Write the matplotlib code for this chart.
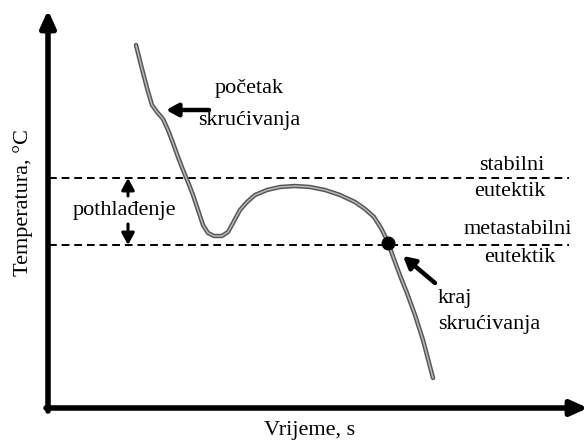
import matplotlib
matplotlib.use("Agg")
import matplotlib.pyplot as plt

# cooling curve (time, temperature) in arbitrary units
time = [87, 92, 98, 103, 108, 114, 119, 124, 129, 134, 139, 144, 149, 154, 159, 165, 173,
        179, 184, 191, 198, 206, 218, 231, 246, 261, 276, 291, 306, 316, 325, 332, 337,
        341, 346, 352, 358, 366, 374, 384]
temp = [363, 343, 320, 303, 296, 289, 278, 265, 251, 238, 226, 213, 198, 183, 175, 172, 172,
        176, 185, 198, 206, 213, 218, 221, 222, 221, 218, 213, 206, 199, 191, 180, 170,
        160, 146, 130, 115, 93, 68, 30]
stable_T = 230
meta_T = 163
end_point = (339, 165)

plt.rcParams['font.family'] = ['Liberation Serif', 'DejaVu Serif']
fig = plt.figure(figsize=(5.88, 4.41), dpi=100)
ax = fig.add_axes([0, 0, 1, 1])
ax.set_xlim(-49, 539)
ax.set_ylim(-33, 408)
ax.axis('off')

# axes with arrows
ax.annotate('', xy=(-1, 398), xytext=(-1, -3),
            arrowprops=dict(arrowstyle='-|>,head_length=1.0,head_width=0.45', lw=4, color='black',
                            shrinkA=0, shrinkB=0))
ax.annotate('', xy=(539, 0), xytext=(-3, 0),
            arrowprops=dict(arrowstyle='-|>,head_length=1.0,head_width=0.45', lw=4, color='black',
                            shrinkA=0, shrinkB=0))

# dashed eutectic lines
for T in (stable_T, meta_T):
    ax.plot([0, 520], [T, T], color='black', lw=1.4, ls=(0, (4, 2.5)))

# curve
ax.plot(time, temp, color='#555555', lw=3.2, solid_joinstyle='round', solid_capstyle='round')
ax.plot(time, temp, color='#b8b8b8', lw=1.1, solid_joinstyle='round', solid_capstyle='round')
ax.plot([end_point[0]], [end_point[1]], 'o', color='black', ms=9)

fs = 16
arrow_kw = dict(arrowstyle='-|>,head_length=0.7,head_width=0.38', lw=3.2, color='black',
                shrinkA=0, shrinkB=0)

# početak skrućivanja
ax.annotate('', xy=(117, 298), xytext=(160, 298), arrowprops=arrow_kw)
ax.text(200, 319, 'početak', fontsize=fs, ha='center', va='center')
ax.text(200, 287, 'skrućivanja', fontsize=fs, ha='center', va='center')

# pothlađenje
ax.annotate('', xy=(79, 230), xytext=(79, 212), arrowprops=dict(arrow_kw, lw=2.2))
ax.annotate('', xy=(79, 163), xytext=(79, 184), arrowprops=dict(arrow_kw, lw=2.2))
ax.text(75, 198, 'pothlađenje', fontsize=fs, ha='center', va='center')

# eutectic labels
ax.text(463, 243, 'stabilni', fontsize=fs, ha='center', va='center')
ax.text(461, 216, 'eutektik', fontsize=fs, ha='center', va='center')
ax.text(469, 179, 'metastabilni', fontsize=fs, ha='center', va='center')
ax.text(471, 151, 'eutektik', fontsize=fs, ha='center', va='center')

# kraj skrućivanja
ax.annotate('', xy=(354, 152), xytext=(386, 125), arrowprops=arrow_kw)
ax.text(389, 110, 'kraj', fontsize=fs, ha='left', va='center')
ax.text(389, 83, 'skrućivanja', fontsize=fs, ha='left', va='center')

# axis labels
ax.text(261, -22, 'Vrijeme, s', fontsize=fs, ha='center', va='center')
ax.text(-26, 206, 'Temperatura, °C', fontsize=16, ha='center', va='center', rotation=90)

fig.savefig('out.png', dpi=100)
